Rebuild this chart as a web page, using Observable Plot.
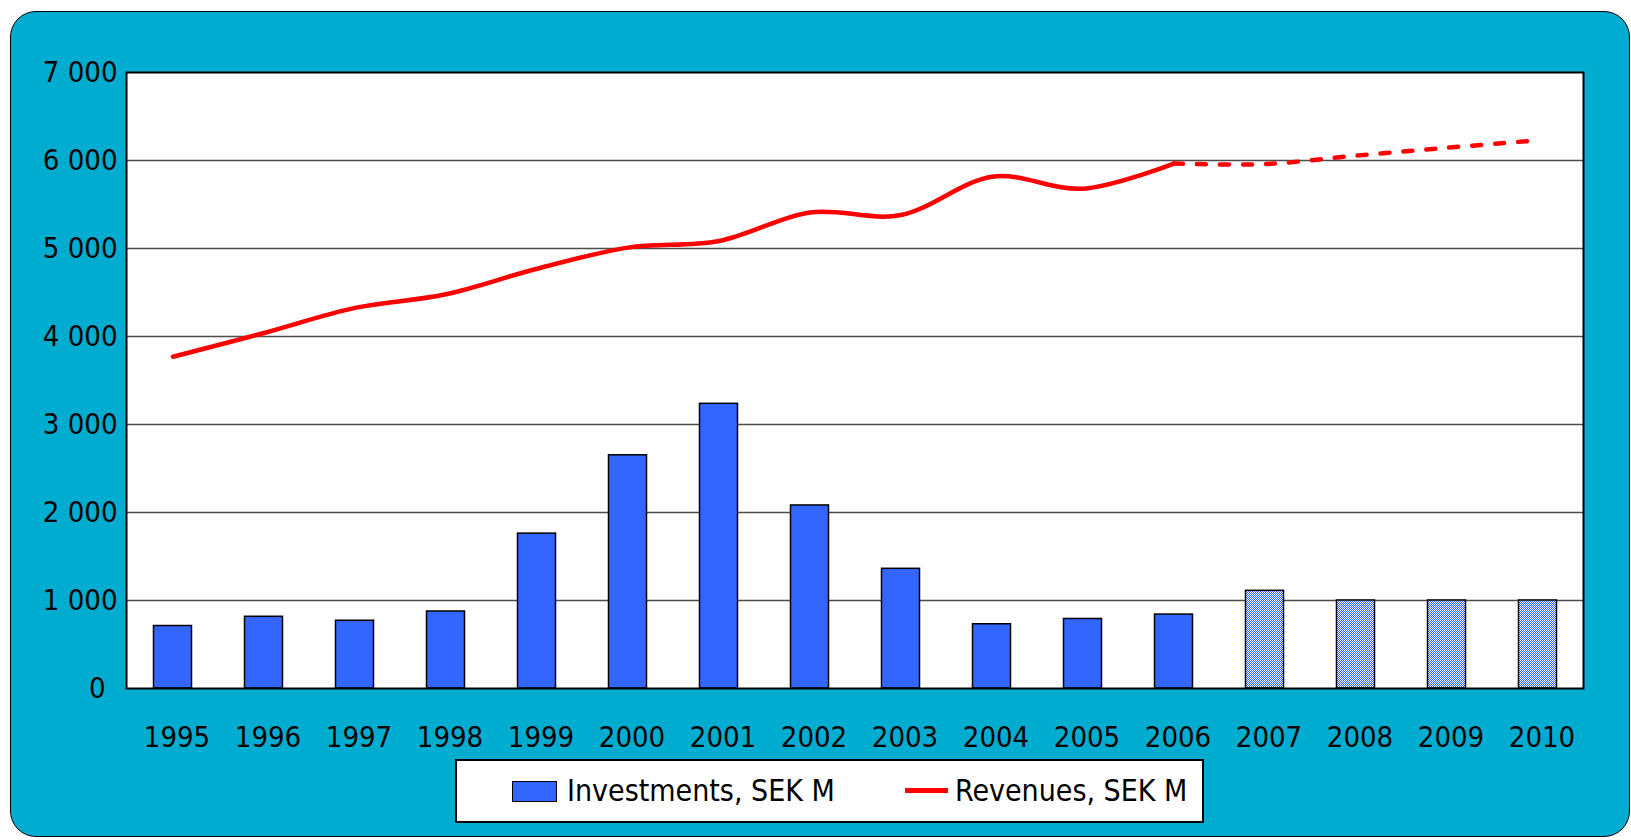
<!DOCTYPE html>
<html>
<head>
<meta charset="utf-8">
<script src="https://cdn.jsdelivr.net/npm/d3@7"></script>
<script src="https://cdn.jsdelivr.net/npm/@observablehq/plot@0.6"></script>
<style>
  html, body { margin: 0; padding: 0; background: #ffffff; }
  #wrap { position: relative; width: 1631px; height: 840px; overflow: hidden;
          font-family: "DejaVu Sans Condensed", "DejaVu Sans", sans-serif; font-stretch: condensed; }
  #card { position: absolute; left: 10px; top: 11px; width: 1620px; height: 826px;
          background: #00ACD0; border: 1.5px solid #000; border-radius: 26px; box-sizing: border-box; }
  #chart { position: absolute; left: 0; top: 0; }
  #legend { position: absolute; left: 455px; top: 759px; width: 749px; height: 64px;
            background: #fff; border: 2px solid #000; box-sizing: border-box; }
  .sw-bar { position: absolute; left: 55px; top: 20px; width: 45px; height: 21px;
            background: #3366FF; border: 1.5px solid #000; box-sizing: border-box; }
  .sw-line { position: absolute; left: 448px; top: 27px; width: 43px; height: 5px; background: #FF0000; }
  .lg-text { position: absolute; top: 8px; font-size: 30px; line-height: 44px; color: #000; white-space: nowrap; }
</style>
</head>
<body>
<div id="wrap">
  <div id="card"></div>
  <div id="chart"></div>
  <div id="legend">
    <div class="sw-bar"></div>
    <div class="lg-text" id="lg1" style="left:110px"></div>
    <div class="sw-line"></div>
    <div class="lg-text" id="lg2" style="left:498px"></div>
  </div>
</div>
<script>
// ---- data ----
const years = ["1995","1996","1997","1998","1999","2000","2001","2002","2003","2004","2005","2006","2007","2008","2009","2010"];
const investments = [710, 815, 770, 875, 1760, 2650, 3235, 2080, 1360, 730, 790, 840, 1110, 1000, 1000, 1000];
const revenues = [3770, 4040, 4325, 4480, 4770, 5010, 5085, 5410, 5380, 5815, 5680, 5965, 5960, 6055, 6145, 6230];
const lastActualYear = "2006";
const yTicks = [0, 1000, 2000, 3000, 4000, 5000, 6000, 7000];
const seriesNames = ["Investments, SEK M", "Revenues, SEK M"];

// ---- tables built from the arrays ----
const lastIdx = years.indexOf(lastActualYear);
const rows = years.map((y, i) => ({year: y, inv: investments[i], rev: revenues[i], i}));
const actualBars = rows.filter(d => d.i <= lastIdx);
const forecastBars = rows.filter(d => d.i > lastIdx);
const actualLine = rows.filter(d => d.i <= lastIdx);
const forecastLine = rows.filter(d => d.i >= lastIdx);

const fmt = d => d3.format(",")(d).replace(/,/g, " ");
const font = '"DejaVu Sans Condensed", "DejaVu Sans", sans-serif';

const svg = Plot.plot({
  width: 1631,
  height: 740,
  marginLeft: 126,
  marginRight: 48,
  marginTop: 72,
  marginBottom: 52,
  style: {background: "transparent", fontSize: "29px", fontFamily: font, color: "#000", overflow: "visible"},
  x: {type: "band", domain: years, padding: 0, label: null},
  y: {domain: [0, 7000], label: null},
  marks: [
    Plot.frame({fill: "#ffffff", stroke: null}),
    Plot.ruleY(yTicks.filter(d => d > 0 && d < 7000), {stroke: "#4d4d4d", strokeWidth: 1.4}),
    Plot.barY(actualBars, {x: "year", y: "inv", fill: "#3366FF", stroke: "#000", strokeWidth: 1.5, insetLeft: 26.5, insetRight: 26.5}),
    Plot.barY(forecastBars, {x: "year", y: "inv", fill: "url(#dots)", stroke: "#000", strokeWidth: 1.5, insetLeft: 26.5, insetRight: 26.5}),
    Plot.line(actualLine, {x: "year", y: "rev", stroke: "#FF0000", strokeWidth: 4.5, curve: "cardinal"}),
    Plot.line(forecastLine, {x: "year", y: "rev", stroke: "#FF0000", strokeWidth: 4.5, curve: "cardinal", strokeDasharray: "9,14"}),
    Plot.frame({stroke: "#000", strokeWidth: 2}),
    Plot.axisX({tickSize: 0, tickPadding: 38, dx: 4, label: null}),
    Plot.axisY({ticks: yTicks.filter(d => d > 0), tickSize: 0, tickPadding: 9, tickFormat: fmt, label: null}),
    Plot.axisY({ticks: [0], tickSize: 0, tickPadding: 21, tickFormat: fmt, label: null})
  ]
});

const defs = document.createElementNS("http://www.w3.org/2000/svg", "defs");
defs.innerHTML = '<pattern id="dots" width="2" height="2" patternUnits="userSpaceOnUse">' +
  '<rect width="2" height="2" fill="#3366FF"/>' +
  '<rect x="0" y="0" width="1" height="1" fill="#ffffff"/>' +
  '<rect x="1" y="1" width="1" height="1" fill="#ffffff"/></pattern>';
svg.insertBefore(defs, svg.firstChild);

document.getElementById("chart").appendChild(svg);
document.getElementById("lg1").textContent = seriesNames[0];
document.getElementById("lg2").textContent = seriesNames[1];
</script>
</body>
</html>
